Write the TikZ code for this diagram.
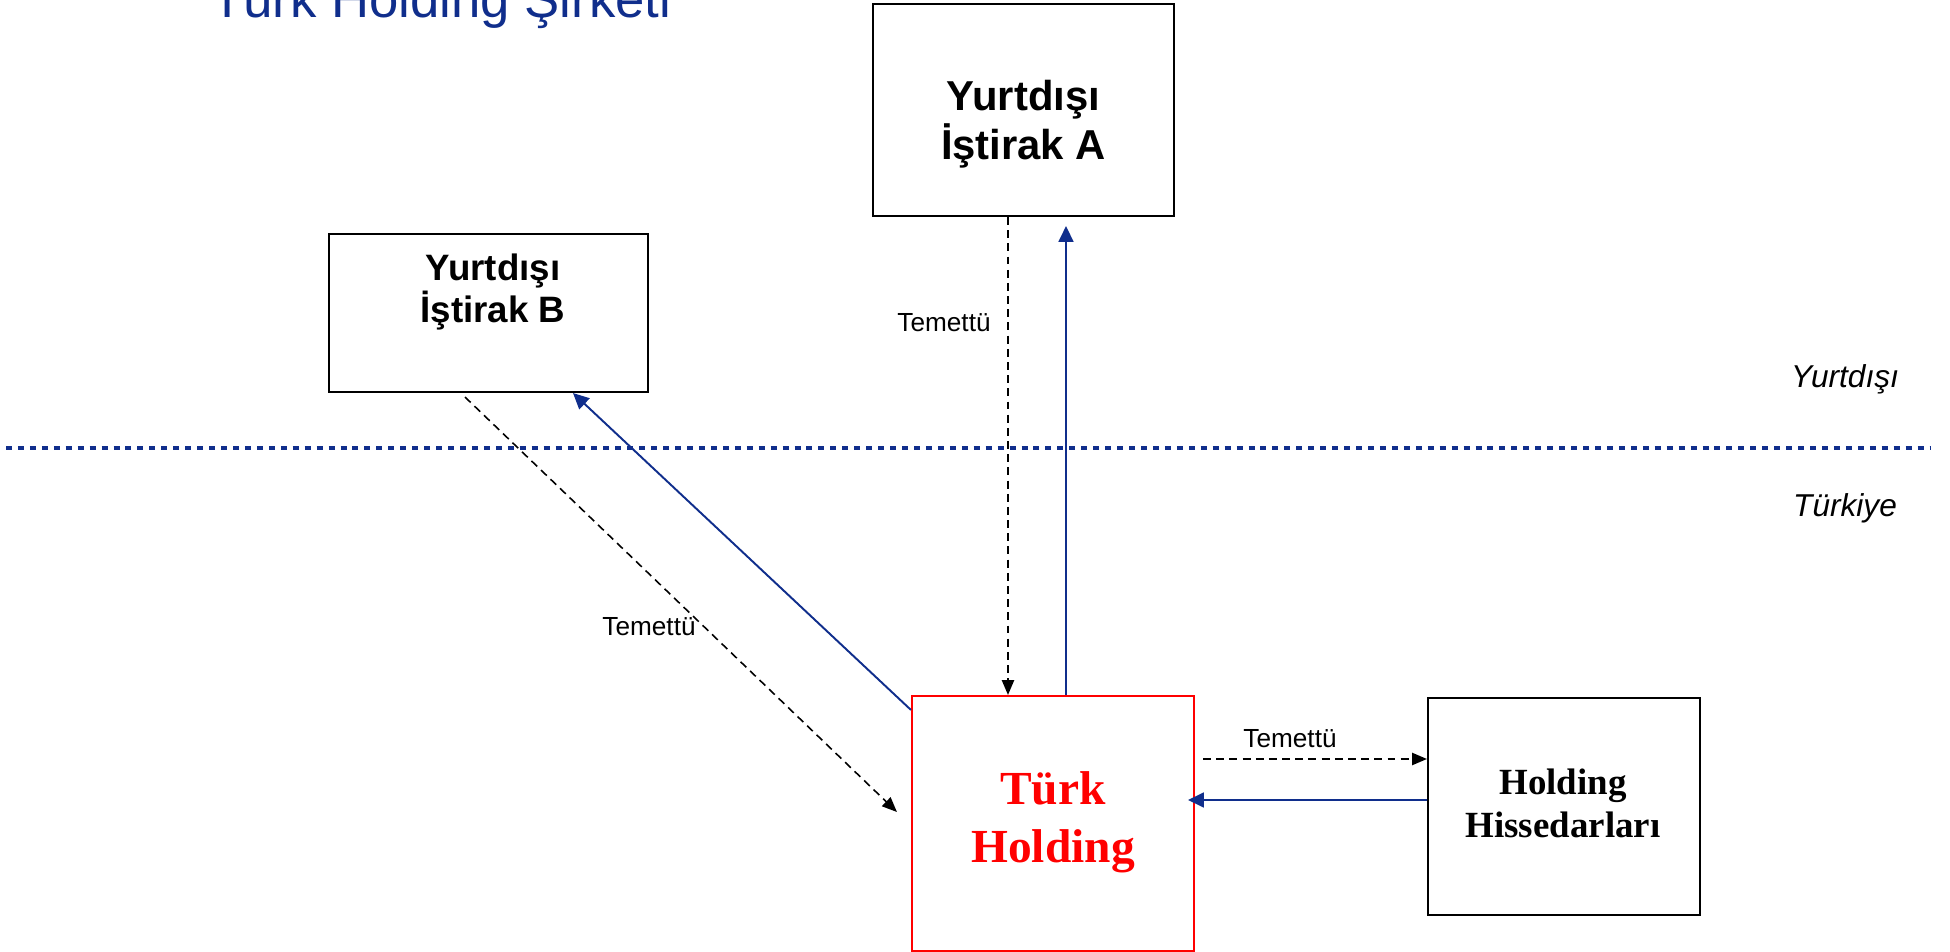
\documentclass[tikz,border=0pt]{standalone}
\usepackage{fontspec}
\setmainfont{Liberation Serif}
\setsansfont{Liberation Sans}
\usetikzlibrary{arrows.meta,calc}

\definecolor{holdblue}{RGB}{16,46,140}
\definecolor{holdred}{RGB}{255,0,0}
\newcommand{\pxl}{0.02cm}

\begin{document}
\begin{tikzpicture}
  [x=0.02cm,y=-0.02cm,
   box/.style={draw=black,line width=1.2pt,inner sep=0pt},
   boxtxt/.style={inner sep=0pt,align=center,anchor=north},
   lbl/.style={font=\sffamily\fontsize{14.9}{17}\selectfont,inner sep=0pt,anchor=base},
   side/.style={font=\sffamily\itshape\fontsize{18}{21}\selectfont,inner sep=0pt,anchor=base},
   temettu/.style={draw=black,line width=0.9pt,dash pattern=on 4.5pt off 3pt,-{Triangle[length=8.5pt,width=7pt]}},
   yatirim/.style={draw=holdblue,line width=1.1pt,-{Triangle[length=9pt,width=8.5pt]}}]
  \useasboundingbox (0,0) rectangle (1950,952);

  \node[anchor=base west,inner sep=0pt,text=holdblue,font=\sffamily\fontsize{30}{36}\selectfont] (title) at (211,18) {Türk Holding Şirketi};

  \node[box,minimum width=301*\pxl,minimum height=212*\pxl] (boxA) at (1023.5,110) {};
  \node[box,minimum width=319*\pxl,minimum height=158*\pxl] (boxB) at (488.5,313) {};
  \node[box,draw=holdred,minimum width=282*\pxl,minimum height=255*\pxl] (holding) at (1053,823.5) {};
  \node[box,minimum width=272*\pxl,minimum height=217*\pxl] (hissedar) at (1564,806.5) {};

  \node[boxtxt,font=\sffamily\bfseries\fontsize{23.8}{27.8}\selectfont] (txtA) at (1023.5,80) {Yurtdışı\\İştirak A};
  \node[boxtxt,font=\sffamily\bfseries\fontsize{20.9}{23.8}\selectfont] (txtB) at (493,254) {Yurtdışı\\İştirak B};
  \node[boxtxt,text=holdred,font=\rmfamily\bfseries\fontsize{27}{33.4}\selectfont] (txtH) at (1053,771) {Türk\\Holding};
  \node[boxtxt,font=\rmfamily\bfseries\fontsize{21}{24.4}\selectfont] (txtS) at (1563,769) {Holding\\Hissedarları};

  \node[side] (yurtdisi) at (1845,388) {Yurtdışı};
  \node[side] (turkiye) at (1845,517) {Türkiye};
  \coordinate (solu) at (6,448);
  \coordinate (sagu) at (1931,448);
  \draw[holdblue,line width=2.8pt,dash pattern=on 3.4pt off 3.4pt] (solu) -- (sagu);

  \coordinate (dA) at (1008,0);
  \coordinate (uA) at (1066,0);
  \draw[temettu] (dA |- boxA.south) -- (dA |- holding.north);
  \draw[yatirim] (uA |- holding.north) -- ($(uA |- boxA.south)+(0,9)$);
  \node[lbl] (tA) at (944,332) {Temettü};

  \draw[yatirim] ($(holding.north west)+(0,15)$) -- ($(boxB.south)+(84.5,0)$);
  \draw[temettu] ($(boxB.south)+(-23.5,4)$) -- ($(holding.west)+(-14,-11.5)$);
  \node[lbl] (tB) at (649,635) {Temettü};

  \draw[temettu] ($(holding.east)+(8,-64.5)$) -- ($(hissedar.west)+(0,-47.5)$);
  \draw[yatirim] ($(hissedar.west)+(0,-6.5)$) -- ($(holding.east)+(-7,-23.5)$);
  \node[lbl] (tH) at (1290,747) {Temettü};
\end{tikzpicture}
\end{document}
